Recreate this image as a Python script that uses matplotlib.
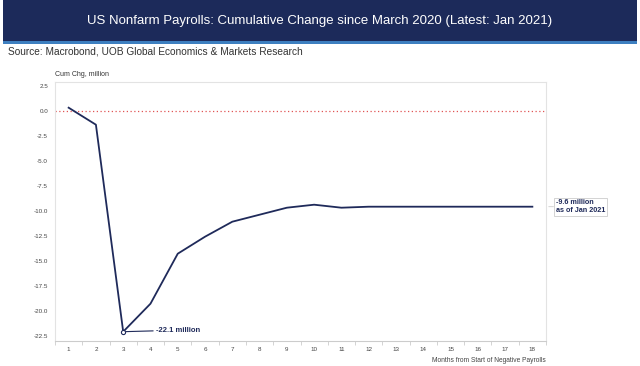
import matplotlib
matplotlib.use("Agg")
import matplotlib.pyplot as plt
from matplotlib.patches import Rectangle
import numpy as np

plt.rcParams['font.family'] = ['Liberation Sans', 'DejaVu Sans']

months = list(range(1, 19))
cum_chg = [0.3, -1.4, -22.1, -19.3, -14.3, -12.6, -11.1, -10.4, -9.7, -9.4,
           -9.7, -9.6, -9.6, -9.6, -9.6, -9.6, -9.6, -9.6]
yticks = [2.5, 0.0, -2.5, -5.0, -7.5, -10.0, -12.5, -15.0, -17.5, -20.0, -22.5]

title = "US Nonfarm Payrolls: Cumulative Change since March 2020 (Latest: Jan 2021)"
source = "Source: Macrobond, UOB Global Economics & Markets Research"

W, H = 640, 366
fig = plt.figure(figsize=(W / 100, H / 100), dpi=100)
fig.patch.set_facecolor("white")

navy = "#1c2a5a"
# banner
fig.patches.append(Rectangle((3 / W, 1 - 41 / H), 634 / W, 41 / H, transform=fig.transFigure,
                             facecolor=navy, edgecolor="none", zorder=0))
fig.patches.append(Rectangle((3 / W, 1 - 44 / H), 634 / W, 3 / H, transform=fig.transFigure,
                             facecolor="#3d7fc0", edgecolor="none", zorder=0))
fig.text(0.5, 1 - 21 / H, title, color="white", fontsize=9.5, ha="center", va="center")
fig.text(8 / W, 1 - 52 / H, source, color="#333333", fontsize=7.3, ha="left", va="center")

ax = fig.add_axes([55 / W, 25 / H, 491 / W, 259 / H])
ax.plot(months, cum_chg, color="#1f2a5a", lw=1.3, zorder=3)
ax.axhline(0, color="#e05555", lw=0.9, ls=(0, (1, 2)), zorder=2)

ax.set_xlim(0.5, 18.5)
ax.set_ylim(-23.03, 2.87)
ax.set_xticks(months)
ax.set_xticklabels([str(m) for m in months])
ax.set_xticks(np.arange(0.5, 19, 1), minor=True)
ax.tick_params(axis="x", which="major", length=0, labelsize=4.5, colors="#444444", pad=4)
ax.tick_params(axis="x", which="minor", length=3, color="#cccccc", width=0.6)
ax.set_yticks(yticks)
ax.set_yticklabels([f"{v:.1f}" for v in yticks])
ax.tick_params(axis="y", length=0, labelsize=4.5, colors="#444444", pad=5)
for s in ax.spines.values():
    s.set_color("#e3e3e3")
    s.set_linewidth(0.8)
ax.spines["bottom"].set_color("#cccccc")

ax.text(0.0, 1.015, "Cum Chg, million", transform=ax.transAxes, fontsize=5,
        color="#333333", ha="left", va="bottom")
ax.text(1.0, -0.06, "Months from Start of Negative Payrolls", transform=ax.transAxes,
        fontsize=4.8, color="#444444", ha="right", va="top")

# trough annotation
ax.plot([3], [cum_chg[2]], marker="o", ms=3, mfc="white", mec="#1f2a5a", mew=0.8, zorder=4)
ax.annotate("-22.1 million", xy=(3, cum_chg[2]), xytext=(4.2, cum_chg[2] + 0.15),
            fontsize=5.5, fontweight="bold", color="#1f2a5a", va="center", ha="left",
            arrowprops=dict(arrowstyle="-", color="#1f2a5a", lw=0.8, shrinkA=0, shrinkB=2))

# latest annotation
ax.annotate("-9.6 million\nas of Jan 2021", xy=(18.6, cum_chg[-1]), xytext=(18.85, cum_chg[-1]),
            fontsize=5.2, fontweight="bold", color="#1f2a5a", va="center", ha="left",
            linespacing=1.1, annotation_clip=False,
            bbox=dict(boxstyle="square,pad=0.25", fc="white", ec="#cccccc", lw=0.6),
            arrowprops=dict(arrowstyle="-", color="#cccccc", lw=0.6, shrinkA=0, shrinkB=0))

fig.savefig("out.png", dpi=100)
